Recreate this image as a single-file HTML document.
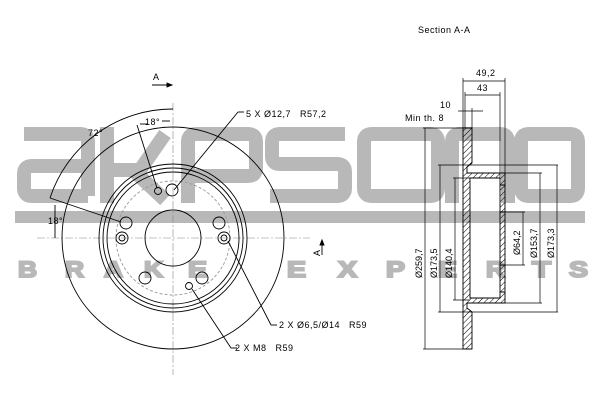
<!DOCTYPE html>
<html><head><style>
html,body{margin:0;padding:0;background:#fff;}
svg{display:block;}
text{font-family:"Liberation Sans",sans-serif;white-space:pre;}
</style></head><body>
<svg width="600" height="400" viewBox="0 0 600 400" xmlns="http://www.w3.org/2000/svg">
<defs>
<pattern id="h" patternUnits="userSpaceOnUse" width="4" height="4" patternTransform="rotate(45)">
<line x1="0" y1="0" x2="0" y2="4" stroke="#000" stroke-width="1"/>
</pattern>
</defs>
<g fill="none" stroke="#b8b8b8" stroke-width="14">
<path d="M24 134 H80 Q88 134 88 142 V196 M88 166 H32 Q24 166 24 174 V188 Q24 196 32 196 H88"/>
<path d="M107 127 V203 M107 170 H140 L165 134 M135 172 L165 200"/>
<path d="M188 203 V142 Q188 134 196 134 H248 Q256 134 256 142 V168 Q256 176 248 176 H188"/>
<path d="M345 134 H280 Q272 134 272 142 V156 Q272 164 280 164 H337 Q345 164 345 172 V188 Q345 196 337 196 H270"/>
<path d="M372 134 H430 Q438 134 438 142 V188 Q438 196 430 196 H372 Q364 196 364 188 V142 Q364 134 372 134 Z"/>
<path d="M452 203 V142 Q452 134 460 134 H500 Q508 134 508 142 V203"/>
<path d="M529 134 H570 Q578 134 578 142 V188 Q578 196 570 196 H529 Q521 196 521 188 V142 Q521 134 529 134 Z"/>
</g>
<rect x="15" y="211" width="570" height="12" fill="#b8b8b8"/>
<g font-size="22" font-weight="bold" fill="#b8b8b8" stroke="#b8b8b8" stroke-width="2">
<text x="18" y="277" textLength="19" lengthAdjust="spacingAndGlyphs">B</text>
<text x="65" y="277" textLength="19" lengthAdjust="spacingAndGlyphs">R</text>
<text x="104" y="277" textLength="19" lengthAdjust="spacingAndGlyphs">A</text>
<text x="144" y="277" textLength="19" lengthAdjust="spacingAndGlyphs">K</text>
<text x="188" y="277" textLength="19" lengthAdjust="spacingAndGlyphs">E</text>
<text x="287" y="277" textLength="19" lengthAdjust="spacingAndGlyphs">E</text>
<text x="338" y="277" textLength="19" lengthAdjust="spacingAndGlyphs">X</text>
<text x="386" y="277" textLength="19" lengthAdjust="spacingAndGlyphs">P</text>
<text x="438" y="277" textLength="19" lengthAdjust="spacingAndGlyphs">E</text>
<text x="486" y="277" textLength="19" lengthAdjust="spacingAndGlyphs">R</text>
<text x="532" y="277" textLength="19" lengthAdjust="spacingAndGlyphs">T</text>
<text x="569" y="277" textLength="19" lengthAdjust="spacingAndGlyphs">S</text>
</g>

<g fill="none" stroke="#000" stroke-width="0.9">
<line x1="173" y1="103" x2="173" y2="375" stroke="#888" stroke-dasharray="8 2 2 2" stroke-width="0.6"/>
<line x1="37" y1="238" x2="310" y2="238" stroke="#888" stroke-dasharray="8 2 2 2" stroke-width="0.6"/>
<circle cx="173" cy="238" r="111"/>
<circle cx="173" cy="238" r="74"/>
<circle cx="173" cy="238" r="70"/>
<circle cx="173" cy="238" r="66"/>
<circle cx="173" cy="238" r="57" stroke="#999" stroke-dasharray="3 2"/>
<circle cx="173" cy="238" r="28"/>
<circle cx="172" cy="190" r="6"/><circle cx="126" cy="223" r="6"/><circle cx="219" cy="223" r="6"/>
<circle cx="145" cy="278" r="6"/><circle cx="202" cy="278" r="6"/>
<circle cx="122" cy="238" r="6"/><circle cx="122" cy="238" r="3"/>
<circle cx="224" cy="238" r="6"/><circle cx="224" cy="238" r="3"/>
<circle cx="158" cy="191" r="3.5"/><circle cx="189" cy="286" r="3.5"/>
<path d="M173 109 A129 129 0 0 0 50 198" />
<line x1="50" y1="198" x2="121" y2="222"/>
<line x1="137" y1="125" x2="157" y2="188"/>
<line x1="140" y1="124" x2="148" y2="124"/><line x1="162" y1="121" x2="170" y2="121"/>
<line x1="55" y1="205" x2="55" y2="238"/>
<line x1="174" y1="190" x2="238" y2="112"/><line x1="238" y1="112" x2="244" y2="112"/>
<line x1="228" y1="241" x2="271" y2="325"/><line x1="271" y1="325" x2="277" y2="325"/>
<line x1="192" y1="289" x2="231" y2="348"/><line x1="231" y1="348" x2="237" y2="348"/>
<line x1="152" y1="85" x2="170" y2="85"/><path d="M167 83 L172 85 L167 87Z" fill="#000"/>
<line x1="322" y1="242" x2="322" y2="255"/><path d="M320 245 L322 240 L324 245Z" fill="#000"/>
</g>
<g font-size="9" fill="#000" letter-spacing="0.5">
<text x="153" y="80">A</text>
<text x="88" y="136">72°</text>
<text x="145" y="125">18°</text>
<text x="48" y="224">18°</text>
<text x="246" y="117">5 X Ø12,7   R57,2</text>
<text x="279" y="328">2 X Ø6,5/Ø14   R59</text>
<text x="235" y="351">2 X M8   R59</text>
<text transform="translate(320,256) rotate(-90)">A</text>
<text x="418" y="33">Section A-A</text>
<text x="476" y="76">49,2</text>
<text x="477" y="91">43</text>
<text x="440" y="108">10</text>
<text x="405" y="121">Min th. 8</text>
</g>

<g stroke="#000" stroke-width="0.9">
<path fill-rule="evenodd" fill="url(#h)" d="M463 128 H472 V163 L467 167 V173 H505 V303 H467 V308 L472 312 V349 H463 Z M470 178 H500 V298 H470 Z"/>
<path d="M500 185 H505 M500 212 H505 M500 265 H505 M500 292 H505" fill="none"/>
</g>
<g fill="none" stroke="#000" stroke-width="0.7">
<line x1="463" y1="78" x2="463" y2="128"/><line x1="505" y1="78" x2="505" y2="173"/>
<line x1="463" y1="81" x2="505" y2="81"/>
<line x1="465" y1="92" x2="465" y2="128"/><line x1="500" y1="92" x2="500" y2="178"/>
<line x1="465" y1="95" x2="500" y2="95"/>
<line x1="458" y1="111" x2="483" y2="111"/><line x1="472" y1="108" x2="472" y2="128"/>
<line x1="423" y1="128" x2="463" y2="128"/><line x1="423" y1="349" x2="463" y2="349"/>
<line x1="425" y1="128" x2="425" y2="349"/>
<line x1="438" y1="165" x2="558" y2="165"/><line x1="438" y1="312" x2="558" y2="312"/>
<line x1="440" y1="165" x2="440" y2="312"/>
<line x1="453" y1="178" x2="470" y2="178"/><line x1="453" y1="300" x2="470" y2="300"/>
<line x1="455" y1="178" x2="455" y2="300"/>
<line x1="505" y1="212" x2="525" y2="212"/><line x1="505" y1="265" x2="525" y2="265"/>
<line x1="523" y1="212" x2="523" y2="265"/>
<line x1="505" y1="173" x2="542" y2="173"/><line x1="505" y1="303" x2="542" y2="303"/>
<line x1="540" y1="173" x2="540" y2="303"/>
<line x1="557" y1="165" x2="557" y2="312"/>
</g>
<g font-size="9" fill="#000">
<text transform="translate(422,278) rotate(-90)">Ø259,7</text>
<text transform="translate(437,278) rotate(-90)">Ø173,5</text>
<text transform="translate(452,278) rotate(-90)">Ø140,4</text>
<text transform="translate(520,255) rotate(-90)">Ø64,2</text>
<text transform="translate(537,258) rotate(-90)">Ø153,7</text>
<text transform="translate(554,258) rotate(-90)">Ø173,3</text>
</g>
</svg>
</body></html>
